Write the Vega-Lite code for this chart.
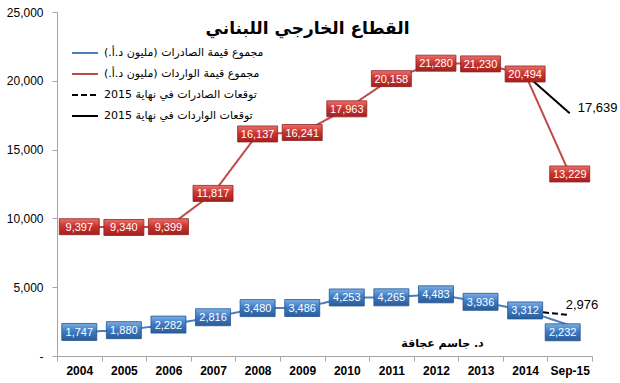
{
  "$schema": "https://vega.github.io/schema/vega-lite/v6.json",
  "width": 535,
  "height": 344,
  "autosize": {"type": "none"},
  "padding": {"left": 57, "top": 12, "right": 28, "bottom": 27},
  "background": "white",
  "config": {"view": {"stroke": null}, "font": "Liberation Sans"},
  "title": {
    "text": "القطاع الخارجي اللبناني",
    "font": "DejaVu Sans",
    "fontSize": 17,
    "fontWeight": "bold",
    "color": "black",
    "anchor": "middle",
    "frame": "group",
    "orient": "top",
    "offset": 0,
    "baseline": "middle",
    "dy": 40,
    "dx": -17
  },
  "data": {
    "values": [
      {"year": "2004", "value": 1747, "series": "exports"},
      {"year": "2005", "value": 1880, "series": "exports"},
      {"year": "2006", "value": 2282, "series": "exports"},
      {"year": "2007", "value": 2816, "series": "exports"},
      {"year": "2008", "value": 3480, "series": "exports"},
      {"year": "2009", "value": 3486, "series": "exports"},
      {"year": "2010", "value": 4253, "series": "exports"},
      {"year": "2011", "value": 4265, "series": "exports"},
      {"year": "2012", "value": 4483, "series": "exports"},
      {"year": "2013", "value": 3936, "series": "exports"},
      {"year": "2014", "value": 3312, "series": "exports"},
      {"year": "Sep-15", "value": 2232, "series": "exports"},
      {"year": "2004", "value": 9397, "series": "imports"},
      {"year": "2005", "value": 9340, "series": "imports"},
      {"year": "2006", "value": 9399, "series": "imports"},
      {"year": "2007", "value": 11817, "series": "imports"},
      {"year": "2008", "value": 16137, "series": "imports"},
      {"year": "2009", "value": 16241, "series": "imports"},
      {"year": "2010", "value": 17963, "series": "imports"},
      {"year": "2011", "value": 20158, "series": "imports"},
      {"year": "2012", "value": 21280, "series": "imports"},
      {"year": "2013", "value": 21230, "series": "imports"},
      {"year": "2014", "value": 20494, "series": "imports"},
      {"year": "Sep-15", "value": 13229, "series": "imports"},
      {"year": "2014", "value": 3312, "series": "fexp"},
      {"year": "Sep-15", "value": 2976, "series": "fexp"},
      {"year": "2014", "value": 20494, "series": "fimp"},
      {"year": "Sep-15", "value": 17639, "series": "fimp"}
    ]
  },
  "encoding": {
    "x": {
      "field": "year",
      "type": "ordinal",
      "sort": ["2004","2005","2006","2007","2008","2009","2010","2011","2012","2013","2014","Sep-15"],
      "scale": {"type": "band", "paddingInner": 0, "paddingOuter": 0},
      "axis": {
        "title": "د. جاسم عجاقة",
        "titleFont": "DejaVu Sans",
        "titleFontSize": 11,
        "titleFontWeight": "bold",
        "titleColor": "black",
        "titleX": 385,
        "titleY": -13,
        "titleAlign": "center",
        "titleBaseline": "middle",
        "labelAngle": 0,
        "labelFont": "Liberation Sans",
        "labelFontSize": 12,
        "labelFontWeight": "bold",
        "labelColor": "black",
        "tickBand": "extent",
        "tickSize": 5,
        "tickColor": "#A6A6A6",
        "domainColor": "#A6A6A6",
        "labelPadding": 4,
        "grid": false
      }
    },
    "y": {
      "field": "value",
      "type": "quantitative",
      "scale": {"domain": [0, 25000], "nice": false},
      "axis": {
        "title": null,
        "values": [0, 5000, 10000, 15000, 20000, 25000],
        "labelExpr": "datum.value == 0 ? '-\u00a0\u00a0\u00a0' : format(datum.value, ',')",
        "labelFont": "Liberation Sans",
        "labelFontSize": 12,
        "labelColor": "black",
        "tickSize": 5,
        "tickColor": "#A6A6A6",
        "domainColor": "#A6A6A6",
        "labelPadding": 9,
        "grid": false
      }
    }
  },
  "layer": [
    {
      "mark": {"type": "line"},
      "encoding": {
        "color": {
          "field": "series",
          "type": "nominal",
          "scale": {"domain": ["exports","imports","fexp","fimp"], "range": ["#4A7EBB","#BE4B48","black","black"]},
          "legend": {
            "orient": "none", "legendX": 14, "legendY": 27, "title": null,
            "symbolType": "stroke", "symbolSize": 676, "symbolStrokeWidth": 3, "rowPadding": 2,
            "labelFont": "DejaVu Sans", "labelFontSize": 11, "labelColor": "black", "labelLimit": 400, "labelOffset": 5,
            "labelExpr": "datum.label == 'exports' ? '\u200fمجموع قيمة الصادرات (مليون د.أ.)\u200f' : datum.label == 'imports' ? '\u200fمجموع قيمة الواردات (مليون د.أ.)\u200f' : datum.label == 'fexp' ? '\u200fتوقعات الصادرات في نهاية 2015\u200f' : '\u200fتوقعات الواردات في نهاية 2015\u200f'"
          }
        },
        "strokeDash": {
          "field": "series",
          "type": "nominal",
          "scale": {"domain": ["exports","imports","fexp","fimp"], "range": [[1,0],[1,0],[6,3],[1,0]]},
          "legend": {
            "orient": "none", "legendX": 14, "legendY": 27, "title": null,
            "symbolType": "stroke", "symbolSize": 676, "symbolStrokeWidth": 3, "rowPadding": 2,
            "labelFont": "DejaVu Sans", "labelFontSize": 11, "labelColor": "black", "labelLimit": 400, "labelOffset": 5,
            "labelExpr": "datum.label == 'exports' ? '\u200fمجموع قيمة الصادرات (مليون د.أ.)\u200f' : datum.label == 'imports' ? '\u200fمجموع قيمة الواردات (مليون د.أ.)\u200f' : datum.label == 'fexp' ? '\u200fتوقعات الصادرات في نهاية 2015\u200f' : '\u200fتوقعات الواردات في نهاية 2015\u200f'"
          }
        },
        "strokeWidth": {
          "field": "series",
          "type": "nominal",
          "scale": {"domain": ["exports","imports","fexp","fimp"], "range": [2, 2, 4, 4]},
          "legend": null
        }
      }
    },
    {
      "transform": [{"filter": "datum.series == 'imports'"}],
      "mark": {
        "type": "point", "shape": "M-1,-0.4H1V0.4H-1Z", "size": 1600, "filled": true, "opacity": 1,
        "fill": {"gradient": "linear", "x1": 0, "y1": 0, "x2": 0, "y2": 1, "stops": [{"offset": 0, "color": "#E8706B"}, {"offset": 0.45, "color": "#CC3531"}, {"offset": 1, "color": "#A3201D"}]},
        "stroke": "#8E2522", "strokeWidth": 0.8
      }
    },
    {
      "transform": [{"filter": "datum.series == 'imports'"}],
      "mark": {"type": "text", "color": "white", "fontSize": 11, "font": "Liberation Sans", "baseline": "middle", "dy": 1},
      "encoding": {"text": {"field": "value", "type": "quantitative", "format": ","}}
    },
    {
      "transform": [{"filter": "datum.series == 'exports' && datum.year != 'Sep-15'"}],
      "mark": {
        "type": "point", "shape": "M-1,-0.486H1V0.486H-1Z", "size": 1225, "filled": true, "opacity": 1,
        "fill": {"gradient": "linear", "x1": 0, "y1": 0, "x2": 0, "y2": 1, "stops": [{"offset": 0, "color": "#7AAEE6"}, {"offset": 0.45, "color": "#3E7CC4"}, {"offset": 1, "color": "#2A5C9A"}]},
        "stroke": "#24558F", "strokeWidth": 0.8
      }
    },
    {
      "transform": [{"filter": "datum.series == 'exports' && datum.year != 'Sep-15'"}],
      "mark": {"type": "text", "color": "white", "fontSize": 11, "font": "Liberation Sans", "baseline": "middle", "dy": 1},
      "encoding": {"text": {"field": "value", "type": "quantitative", "format": ","}}
    },
    {
      "transform": [{"filter": "datum.series == 'exports' && datum.year == 'Sep-15'"}],
      "mark": {
        "type": "point", "shape": "M-1,-0.486H1V0.486H-1Z", "size": 1225, "filled": true, "opacity": 1,
        "xOffset": -7, "yOffset": 7,
        "fill": {"gradient": "linear", "x1": 0, "y1": 0, "x2": 0, "y2": 1, "stops": [{"offset": 0, "color": "#7AAEE6"}, {"offset": 0.45, "color": "#3E7CC4"}, {"offset": 1, "color": "#2A5C9A"}]},
        "stroke": "#24558F", "strokeWidth": 0.8
      }
    },
    {
      "transform": [{"filter": "datum.series == 'exports' && datum.year == 'Sep-15'"}],
      "mark": {"type": "text", "color": "white", "fontSize": 11, "font": "Liberation Sans", "baseline": "middle", "dx": -7, "dy": 8},
      "encoding": {"text": {"field": "value", "type": "quantitative", "format": ","}}
    },
    {
      "transform": [{"filter": "datum.series == 'fimp' && datum.year == 'Sep-15'"}],
      "mark": {"type": "text", "color": "black", "fontSize": 13, "font": "Liberation Sans", "baseline": "middle", "align": "left", "dx": 8, "dy": -5},
      "encoding": {"text": {"field": "value", "type": "quantitative", "format": ","}}
    },
    {
      "transform": [{"filter": "datum.series == 'fexp' && datum.year == 'Sep-15'"}],
      "mark": {"type": "text", "color": "black", "fontSize": 13, "font": "Liberation Sans", "baseline": "middle", "align": "left", "dx": -4, "dy": -10},
      "encoding": {"text": {"field": "value", "type": "quantitative", "format": ","}}
    }
  ]
}
